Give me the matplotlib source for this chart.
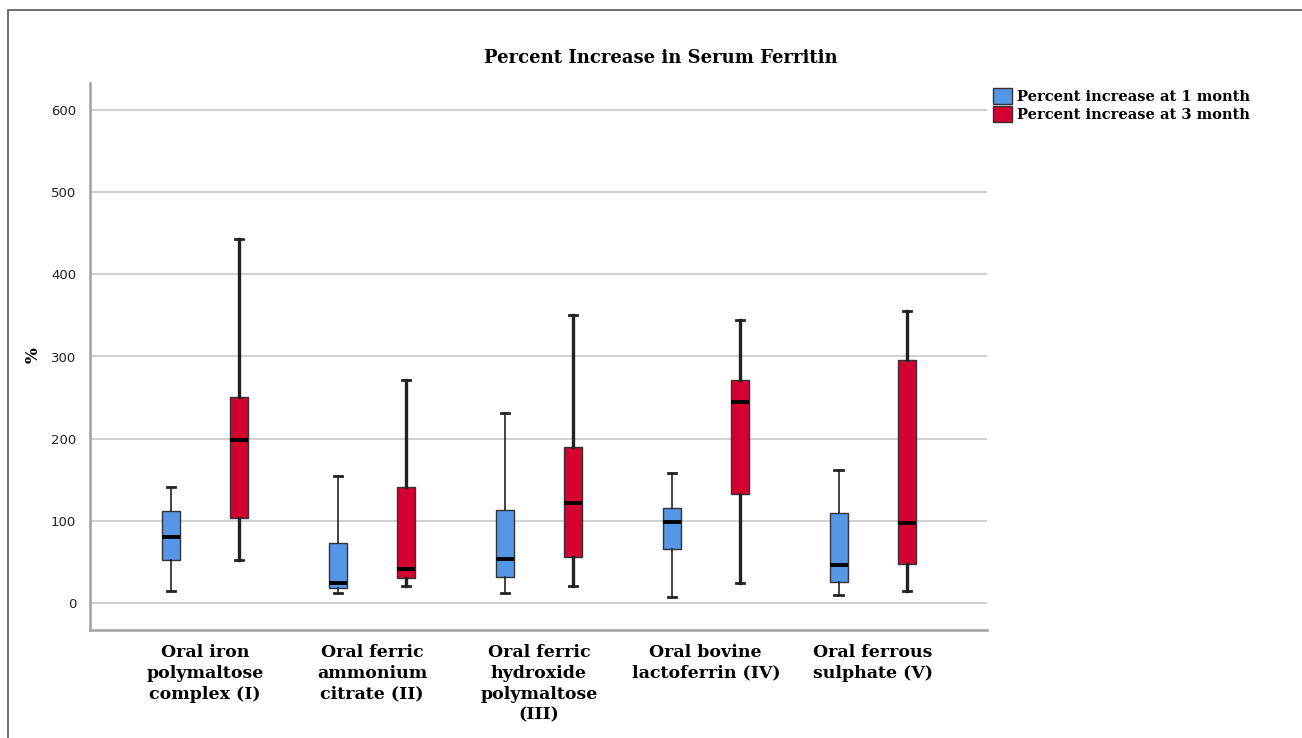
import numpy as np
import matplotlib
matplotlib.use("Agg")
import matplotlib.pyplot as plt
from matplotlib.patches import Patch, Rectangle

# ---- data
groups = ["Oral iron\npolymaltose\ncomplex (I)",
          "Oral ferric\nammonium\ncitrate (II)",
          "Oral ferric\nhydroxide\npolymaltose\n(III)",
          "Oral bovine\nlactoferrin (IV)",
          "Oral ferrous\nsulphate (V)"]
series = ["Percent increase at 1 month", "Percent increase at 3 month"]

m1_low = [15, 12, 12, 7, 10]
m1_q1 = [52, 18, 32, 66, 25]
m1_med = [80, 24, 53, 98, 46]
m1_q3 = [112, 73, 113, 115, 110]
m1_high = [141, 155, 231, 158, 162]

m3_low = [52, 20, 21, 24, 14]
m3_q1 = [103, 30, 56, 133, 47]
m3_med = [198, 41, 122, 245, 97]
m3_q3 = [251, 141, 190, 271, 296]
m3_high = [443, 271, 350, 344, 356]

yticks = [0, 100, 200, 300, 400, 500, 600]

BLUE = "#5596E6"
RED = "#D50032"
EDGE = "#333333"
SERIF = ["DejaVu Serif"]


def stats(low, q1, med, q3, high):
    return [dict(whislo=a, q1=b, med=c, q3=d, whishi=e, fliers=[])
            for a, b, c, d, e in zip(low, q1, med, q3, high)]


fig = plt.figure(figsize=(13.02, 7.38), dpi=100)
fig.patch.set_facecolor("white")
# outer frame
fig.add_artist(Rectangle((8 / 1302, -0.1), 1.2, (738 - 10) / 738 + 0.1,
                         transform=fig.transFigure, fill=False,
                         edgecolor="#555555", lw=1.2))

ax = fig.add_axes([90 / 1302, 1 - 630 / 738, (987 - 90) / 1302, (630 - 83) / 738])

x = np.arange(len(groups))
off = 0.204
w = 0.108
for vals, col, dx, wlw in [((m1_low, m1_q1, m1_med, m1_q3, m1_high), BLUE, -off, 1.2),
                            ((m3_low, m3_q1, m3_med, m3_q3, m3_high), RED, off, 2.4)]:
    ax.bxp(stats(*vals), positions=x + dx, widths=w, patch_artist=True,
           showfliers=False, manage_ticks=False,
           boxprops=dict(facecolor=col, edgecolor=EDGE, lw=1.0),
           medianprops=dict(color="black", lw=2.8, solid_capstyle="butt"),
           whiskerprops=dict(color="#222222", lw=wlw),
           capprops=dict(color="#222222", lw=2.0),
           capwidths=0.05, zorder=3)

ax.set_xlim(-0.69, 4.685)
ax.set_ylim(-33, 633)
ax.set_yticks(yticks)
ax.set_yticklabels([str(t) for t in yticks], fontsize=9.5, color="#222222")
ax.set_xticks(x)
ax.set_xticklabels(groups, family=SERIF, fontweight="bold", fontsize=12.5,
                   linespacing=1.3, va="top")
ax.tick_params(axis="both", length=0)
ax.tick_params(axis="y", pad=10)
ax.tick_params(axis="x", pad=10)
ax.grid(axis="y", color="#C8C8C8", lw=1.2, zorder=0)
ax.set_axisbelow(True)
for s in ["top", "right"]:
    ax.spines[s].set_visible(False)
for s in ["left", "bottom"]:
    ax.spines[s].set_color("#A0A0A0")
    ax.spines[s].set_linewidth(1.8)

ax.set_ylabel("%", family=SERIF, fontweight="bold", fontsize=12)
ax.yaxis.set_label_coords((42 - 90) / 897, (630 - 355) / 547)
fig.text(661 / 1302, 1 - 58 / 738, "Percent Increase in Serum Ferritin",
         family=SERIF, fontweight="bold", fontsize=13, ha="center", va="center")

handles = [Patch(facecolor=BLUE, edgecolor=EDGE, lw=1.0),
           Patch(facecolor=RED, edgecolor=EDGE, lw=1.0)]
fig.legend(handles, series, loc="upper left",
           bbox_to_anchor=(983 / 1302, 1 - 78 / 738), frameon=False,
           prop=dict(family=SERIF, weight="bold", size=10.5),
           handlelength=1.3, handleheight=1.3, handletextpad=0.3,
           labelspacing=0.15, borderpad=0.2)

fig.savefig("out.png", dpi=100, facecolor="white")
